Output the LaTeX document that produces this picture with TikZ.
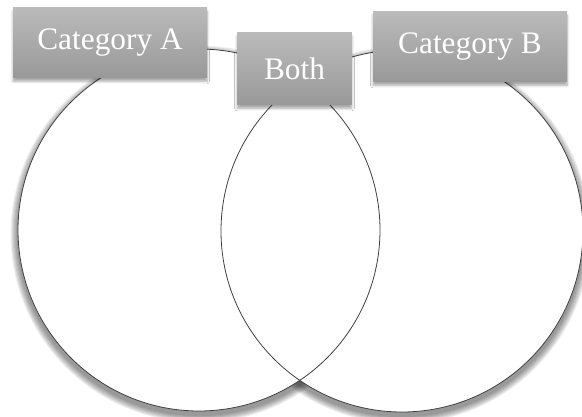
\documentclass[tikz,border=0pt]{standalone}
\usepackage{fontspec}
\setmainfont{Liberation Serif}
\usetikzlibrary{shadows.blur}

\tikzset{
	catbox/.style={rectangle, minimum width=145.5pt, minimum height=52.5pt, inner sep=0pt,
		top color=black!27, bottom color=black!40, text=white,
		font=\fontsize{23.5}{26}\selectfont,
		blur shadow={shadow xshift=0pt, shadow yshift=-2.5pt, shadow blur steps=6, shadow opacity=35}},
	ring/.style={draw=black!75, line width=0.6pt},
}

\begin{document}
\begin{tikzpicture}[x=0.75pt, y=-0.75pt]
\useasboundingbox (0,0) rectangle (582,417);

\coordinate (cl) at (199,230);
\coordinate (cr) at (402,231);

% soft shadow round both circles
\foreach \i in {1, ..., 7} {
	\fill[black, opacity=0.07] ([yshift=-3pt]cl) circle[radius=135.75pt+\i*0.8pt];
	\fill[black, opacity=0.07] ([yshift=-3pt]cr) circle[radius=135.75pt+\i*0.8pt];
}

\fill[white] (cl) circle[radius=135.75pt];
\fill[white] (cr) circle[radius=135.75pt];
\draw[ring] (cl) circle[radius=135.75pt];
\draw[ring] (cr) circle[radius=135.75pt];

\node[catbox] (catA) at (110,43) {Category A};
\node[catbox, minimum width=86pt, minimum height=54pt] (both) at (294.5,69) {Both};
\node[catbox] (catB) at (470,47) {Category B};

\end{tikzpicture}
\end{document}
